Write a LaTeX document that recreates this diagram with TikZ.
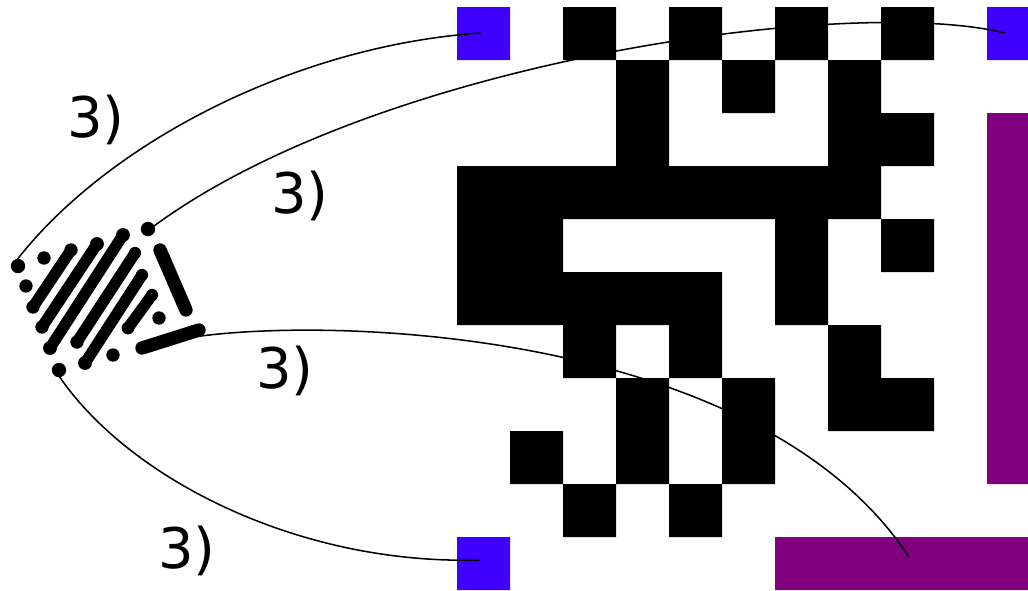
\documentclass[tikz,border=0pt]{standalone}
\usepackage{fontspec}
\setmainfont{DejaVu Sans}
\usepackage{tikz}
\usetikzlibrary{positioning}
\definecolor{finderblue}{RGB}{64,0,255}
\definecolor{trackpurple}{RGB}{128,0,128}
\tikzset{>=stealth}
\tikzset{blackcell/.style={fill=black}, cornercell/.style={fill=finderblue}, trackcell/.style={fill=trackpurple}}
\tikzset{joinline/.style={line width=1.15pt}, smear/.style={line width=8.5pt, line cap=round}, smearbar/.style={line width=10pt, line cap=round}}
\tikzset{steplabel/.style={anchor=base west, font=\fontsize{42}{42}\selectfont}}
\begin{document}
\begin{tikzpicture}[x=0.75pt, y=-0.75pt, inner sep=0pt, outer sep=0pt]
\useasboundingbox (0,0) rectangle (1028,590);
\clip (0,0) rectangle (1028,590);
\begin{scope}[shift={(457,7)}, scale=53]
\fill[blackcell] (2,0) rectangle ++(1,1) (4,0) rectangle ++(1,1) (6,0) rectangle ++(1,1) (8,0) rectangle ++(1,1)
  (3,1) rectangle ++(1,1) (5,1) rectangle ++(1,1) (7,1) rectangle ++(1,1)
  (3,2) rectangle ++(1,1) (7,2) rectangle ++(2,1)
  (0,3) rectangle ++(8,1)
  (0,4) rectangle ++(2,1) (6,4) rectangle ++(1,1) (8,4) rectangle ++(1,1)
  (0,5) rectangle ++(5,1) (6,5) rectangle ++(1,1)
  (2,6) rectangle ++(1,1) (4,6) rectangle ++(1,1) (7,6) rectangle ++(1,1)
  (3,7) rectangle ++(1,1) (5,7) rectangle ++(1,1) (7,7) rectangle ++(2,1)
  (1,8) rectangle ++(1,1) (3,8) rectangle ++(1,1) (5,8) rectangle ++(1,1)
  (2,9) rectangle ++(1,1) (4,9) rectangle ++(1,1);
\fill[cornercell] (0,0) rectangle ++(1,1) (10,0) rectangle ++(1,1) (0,10) rectangle ++(1,1);
\fill[trackcell] (10,2) rectangle (11,9) (6,10) rectangle (11,11);
\end{scope}
\fill (18,266) circle (5.4pt);
\fill (44,258) circle (5pt);
\fill (26,286) circle (5pt);
\fill (148,229) circle (5.4pt);
\fill (159,318) circle (5pt);
\fill (113,355) circle (5pt);
\fill (59,370) circle (5.4pt);
\draw[smear] (33,307) -- (71,250);
\draw[smear] (42,327) -- (97,244);
\draw[smear] (50,348) -- (123,235);
\draw[smear] (77,342) -- (135,253);
\draw[smear] (85,363) -- (142,275);
\draw[smear] (128,328) -- (152,295);
\fill (33,307) circle (5pt);
\fill (71,250) circle (5pt);
\fill (42,327) circle (5pt);
\fill (97,244) circle (5.2pt);
\fill (50,348) circle (5.2pt);
\fill (123,235) circle (5.2pt);
\fill (77,342) circle (5pt);
\fill (135,253) circle (4.6pt);
\fill (85,363) circle (5.2pt);
\fill (142,275) circle (4.6pt);
\fill (128,328) circle (4.8pt);
\fill (152,295) circle (4.6pt);
\draw[smearbar] (160,250) -- (186,310);
\draw[smearbar] (142,348) -- (199,330);
\coordinate (photoTL) at (16,261);
\coordinate (photoTR) at (154,226);
\coordinate (photoBR) at (187,338);
\coordinate (photoBL) at (59,376);
\coordinate (codeTL) at (481,33);
\coordinate (codeTR) at (1005,33);
\coordinate (codeBR) at (909,557);
\coordinate (codeBL) at (479,560);
\draw[joinline] (photoTL) .. controls +(94,-121) and +(-181,12) .. (codeTL);
\draw[joinline] (photoTR) .. controls +(226,-166) and +(-155,-38) .. (codeTR);
\draw[joinline] (photoBR) .. controls +(143,-23) and +(-149,-227) .. (codeBR);
\draw[joinline] (photoBL) .. controls +(71,104) and +(-179,5) .. (codeBL);
\node[steplabel] (stepTL) at (67,137) {3)};
\node[steplabel] (stepTR) at (271,213) {3)};
\node[steplabel] (stepBR) at (256,388) {3)};
\node[steplabel] (stepBL) at (158,568) {3)};
\end{tikzpicture}
\end{document}
